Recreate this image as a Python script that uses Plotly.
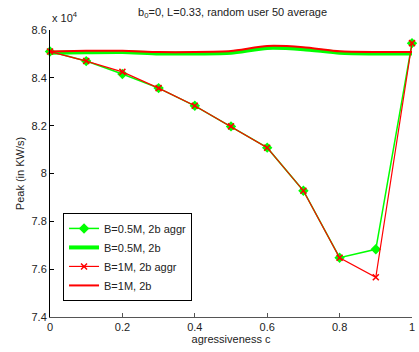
import plotly.graph_objects as go

# aggressiveness values c
c = [0.0, 0.1, 0.2, 0.3, 0.4, 0.5, 0.6, 0.7, 0.8, 0.9, 1.0]

# peak (in units of 10^4 KW/s)
b05_aggr = [8.51, 8.47, 8.416, 8.357, 8.283, 8.197, 8.108, 7.928, 7.648, 7.683, 8.545]
b05_2b = [8.505, 8.507, 8.508, 8.502, 8.502, 8.505, 8.525, 8.520, 8.505, 8.502, 8.502]
b1_aggr = [8.51, 8.47, 8.425, 8.357, 8.283, 8.197, 8.108, 7.928, 7.648, 7.566, 8.545]
b1_2b = [8.51, 8.513, 8.513, 8.508, 8.508, 8.512, 8.533, 8.528, 8.511, 8.508, 8.508]

y_ticks = [7.4, 7.6, 7.8, 8.0, 8.2, 8.4, 8.6]
y_tick_text = ["7.4", "7.6", "7.8", "8", "8.2", "8.4", "8.6"]
x_ticks = [0, 0.2, 0.4, 0.6, 0.8, 1]
x_tick_text = ["0", "0.2", "0.4", "0.6", "0.8", "1"]

GREEN = "#00ff00"
RED = "#ff0000"
FONT = "Liberation Sans, Arial, sans-serif"

fig = go.Figure()
fig.add_trace(go.Scatter(
    x=c, y=b05_aggr, name="B=0.5M, 2b aggr", mode="lines+markers",
    line=dict(color=GREEN, width=1.5),
    marker=dict(symbol="diamond", size=8, color=GREEN), cliponaxis=False))
fig.add_trace(go.Scatter(
    x=c, y=b05_2b, name="B=0.5M, 2b", mode="lines",
    line=dict(color=GREEN, width=4, shape="spline", smoothing=0.6), cliponaxis=False))
fig.add_trace(go.Scatter(
    x=c, y=b1_aggr, name="B=1M, 2b aggr", mode="lines+markers",
    line=dict(color=RED, width=1.2),
    marker=dict(symbol="x-thin", size=6, color=RED, line=dict(color=RED, width=1.5)),
    cliponaxis=False))
fig.add_trace(go.Scatter(
    x=c, y=b1_2b, name="B=1M, 2b", mode="lines",
    line=dict(color=RED, width=2, shape="spline", smoothing=0.6), cliponaxis=False))

fig.update_layout(
    width=419, height=352,
    margin=dict(l=50, r=4, t=30, b=35),
    paper_bgcolor="white", plot_bgcolor="white",
    font=dict(family=FONT, size=11, color="#222"),
    title=dict(text="b<sub>0</sub>=0, L=0.33, random user 50 average",
               x=0.555, xanchor="center", y=0.965, yanchor="middle",
               font=dict(family=FONT, size=11, color="#222")),
    showlegend=True,
    legend=dict(x=0.036, y=0.056, xanchor="left", yanchor="bottom",
                bgcolor="white", bordercolor="black", borderwidth=1,
                font=dict(family=FONT, size=11, color="#222"),
                itemwidth=30, tracegroupgap=0),
    xaxis=dict(range=[0, 1], tickvals=x_ticks, ticktext=x_tick_text,
               ticks="inside", ticklen=4, tickcolor="#555",
               showline=True, linecolor="#555", linewidth=1,
               showgrid=False, zeroline=False,
               title=dict(text="agressiveness c", standoff=2,
                          font=dict(family=FONT, size=11))),
    yaxis=dict(range=[7.4, 8.6], tickvals=y_ticks, ticktext=y_tick_text,
               ticks="inside", ticklen=4, tickcolor="black",
               showline=True, linecolor="black", linewidth=1,
               showgrid=False, zeroline=False,
               title=dict(text="Peak (in KW/s)", standoff=4,
                          font=dict(family=FONT, size=11))),
)

fig.add_annotation(text="x 10<sup>4</sup>", xref="paper", yref="paper",
                   x=0.0, y=1.0, xanchor="left", yanchor="bottom", yshift=4,
                   showarrow=False, font=dict(family=FONT, size=11, color="#222"))

fig.write_html("out.html")
